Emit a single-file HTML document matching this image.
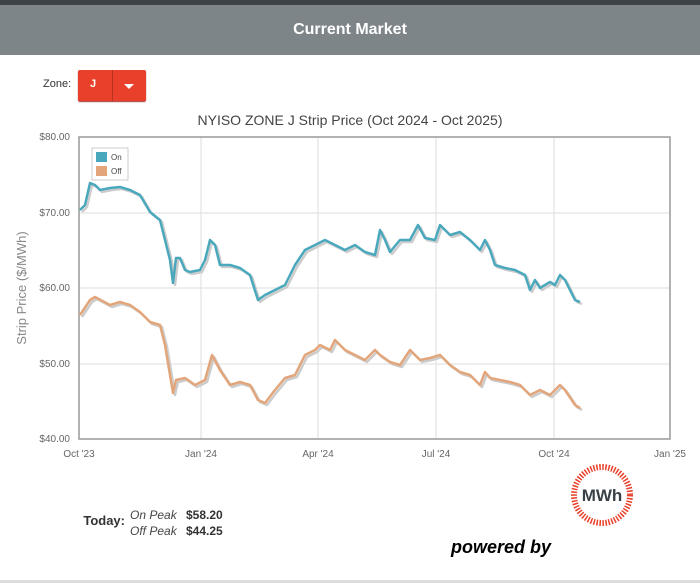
<!DOCTYPE html><html><head><style>
body{margin:0;width:700px;height:583px;background:#fff;font-family:"Liberation Sans",sans-serif;position:relative;overflow:hidden}
.top{position:absolute;left:0;top:0;width:700px;height:5px;background:#3d4247}
.hdr{position:absolute;left:0;top:5px;width:700px;height:50px;background:#7d8589;color:#fff;font-weight:bold;font-size:16px;text-align:center;line-height:50px}
.zl{position:absolute;left:43px;top:78px;font-size:11px;color:#333}
.btn{position:absolute;left:78px;top:70px;width:68px;height:31px;background:#e8402a;border-radius:2px;box-shadow:0 1px 1px #a33}
.btn .j{position:absolute;left:12px;top:8px;color:#fff;font-weight:bold;font-size:11px}
.btn .s{position:absolute;left:34px;top:0;width:1px;height:31px;background:#b8321f}
.btn .a{position:absolute;left:46px;top:14px;border-left:5px solid transparent;border-right:5px solid transparent;border-top:5px solid #fff}
.bot{position:absolute;left:0;top:580px;width:700px;height:3px;background:#ddd}
</style></head><body>
<div class="top"></div><div class="hdr">Current Market</div>
<div class="zl">Zone:</div>
<div class="btn"><span class="j">J</span><span class="s"></span><span class="a"></span></div>
<svg width="700" height="583" style="position:absolute;left:0;top:0" font-family="Liberation Sans,sans-serif">
<text x="350" y="125" text-anchor="middle" font-size="14" fill="#444">NYISO ZONE J Strip Price (Oct 2024 - Oct 2025)</text>
<g stroke="#ddd" stroke-width="1">
<line x1="79" y1="213" x2="670" y2="213"/><line x1="79" y1="288" x2="670" y2="288"/><line x1="79" y1="364" x2="670" y2="364"/>
<line x1="201" y1="137" x2="201" y2="439"/><line x1="318" y1="137" x2="318" y2="439"/><line x1="436" y1="137" x2="436" y2="439"/><line x1="554" y1="137" x2="554" y2="439"/><line x1="670" y1="137" x2="670" y2="439"/>
</g>
<rect x="79" y="137" width="591" height="302" fill="none" stroke="#999" stroke-width="1.5"/>
<g font-size="10" fill="#666" text-anchor="end">
<text x="70" y="140">$80.00</text><text x="70" y="216">$70.00</text><text x="70" y="291">$60.00</text><text x="70" y="367">$50.00</text><text x="70" y="442">$40.00</text></g>
<g font-size="10" fill="#666" text-anchor="middle">
<text x="79" y="457">Oct '23</text><text x="201" y="457">Jan '24</text><text x="318" y="457">Apr '24</text><text x="436" y="457">Jul '24</text><text x="554" y="457">Oct '24</text><text x="670" y="457">Jan '25</text></g>
<text transform="translate(26,288) rotate(-90)" text-anchor="middle" font-size="13" fill="#888">Strip Price ($/MWh)</text>
<g fill="none" stroke-width="2.5" stroke-linejoin="round">
<polyline stroke="#ccc" transform="translate(2,2)" points="80,210 85,205 90,183 95,185 100,190 110,188 120,187 130,190 140,195 150,212 160,220 165,240 170,260 173,283 176,258 180,258 185,270 190,272 200,270 205,260 210,240 215,245 220,265 230,265 240,268 250,275 258,300 265,295 275,290 285,285 295,265 305,250 315,245 325,240 335,245 345,250 355,245 365,252 375,255 380,230 385,240 390,252 400,240 410,240 418,225 425,238 435,240 440,225 450,235 460,232 470,240 480,250 485,240 490,250 495,265 505,268 515,270 525,275 530,290 535,280 540,288 550,282 555,285 560,275 565,280 570,290 575,300 580,302"/>
<polyline stroke="#4aa8bd" points="80,210 85,205 90,183 95,185 100,190 110,188 120,187 130,190 140,195 150,212 160,220 165,240 170,260 173,283 176,258 180,258 185,270 190,272 200,270 205,260 210,240 215,245 220,265 230,265 240,268 250,275 258,300 265,295 275,290 285,285 295,265 305,250 315,245 325,240 335,245 345,250 355,245 365,252 375,255 380,230 385,240 390,252 400,240 410,240 418,225 425,238 435,240 440,225 450,235 460,232 470,240 480,250 485,240 490,250 495,265 505,268 515,270 525,275 530,290 535,280 540,288 550,282 555,285 560,275 565,280 570,290 575,300 580,302"/>
<polyline stroke="#ccc" transform="translate(2,2)" points="80,315 90,300 95,297 110,305 120,302 130,305 140,312 150,322 160,325 165,345 170,375 173,393 176,380 185,378 195,385 205,380 212,355 220,370 230,385 240,382 250,385 258,400 265,403 275,390 285,378 295,375 305,355 315,350 320,345 330,350 335,340 345,350 355,355 365,360 375,350 380,355 390,362 400,365 410,350 420,360 430,358 440,355 450,365 460,372 470,375 480,385 485,372 490,378 500,380 510,382 520,385 530,395 540,390 550,395 560,385 565,390 575,405 580,408"/>
<polyline stroke="#e3a57a" points="80,315 90,300 95,297 110,305 120,302 130,305 140,312 150,322 160,325 165,345 170,375 173,393 176,380 185,378 195,385 205,380 212,355 220,370 230,385 240,382 250,385 258,400 265,403 275,390 285,378 295,375 305,355 315,350 320,345 330,350 335,340 345,350 355,355 365,360 375,350 380,355 390,362 400,365 410,350 420,360 430,358 440,355 450,365 460,372 470,375 480,385 485,372 490,378 500,380 510,382 520,385 530,395 540,390 550,395 560,385 565,390 575,405 580,408"/>
</g>
<rect x="92" y="148" width="36" height="32" fill="#fff" stroke="#ccc"/>
<rect x="96" y="152" width="11" height="10" fill="#4aa8bd"/><rect x="96" y="166" width="11" height="10" fill="#e3a57a"/>
<text x="111" y="160" font-size="8" fill="#444">On</text><text x="111" y="174" font-size="8" fill="#444">Off</text>
<text x="125" y="525" text-anchor="end" font-size="13" font-weight="bold" fill="#333">Today:</text>
<text x="130" y="519" font-size="12" font-style="italic" fill="#444">On Peak</text>
<text x="130" y="535" font-size="12" font-style="italic" fill="#444">Off Peak</text>
<text x="186" y="519" font-size="12" font-weight="bold" fill="#333">$58.20</text>
<text x="186" y="535" font-size="12" font-weight="bold" fill="#333">$44.25</text>
<text x="451" y="553" font-size="18" font-weight="bold" font-style="italic" fill="#000">powered by</text>
<circle cx="602" cy="495" r="28" fill="#fff" stroke="#e8402a" stroke-width="6" stroke-dasharray="1.5 1.5"/>
<text x="602" y="501" text-anchor="middle" font-size="17" font-weight="bold" fill="#3a4146">MWh</text>
</svg>
<div class="bot"></div>
</body></html>
